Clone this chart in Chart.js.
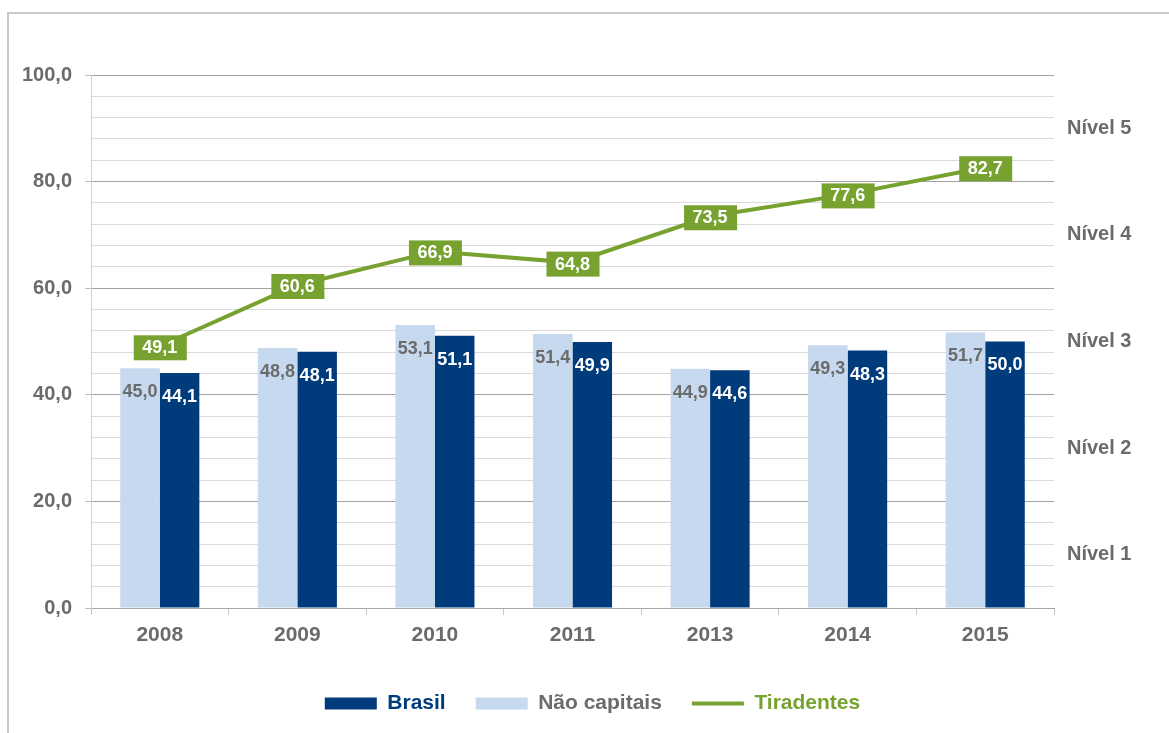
<!DOCTYPE html>
<html>
<head>
<meta charset="utf-8">
<script src="https://cdn.jsdelivr.net/npm/chart.js@4"></script>
<style>
  html, body { margin: 0; padding: 0; background: #fff; }
  #wrap { position: relative; width: 1169px; height: 733px; overflow: hidden; }
  #frame { position: absolute; left: 7px; top: 12px; width: 1200px; height: 800px; border: 2px solid #c9c9c9; box-sizing: border-box; }
  canvas { position: absolute; left: 0; top: 0; }
</style>
</head>
<body>
<div id="wrap">
  <div id="frame"></div>
  <canvas id="chart" width="1169" height="733"></canvas>
</div>
<script>
// anos e valores
const years = ['2008', '2009', '2010', '2011', '2013', '2014', '2015'];
const naoCapitais = [45.0, 48.8, 53.1, 51.4, 44.9, 49.3, 51.7];
const brasil = [44.1, 48.1, 51.1, 49.9, 44.6, 48.3, 50.0];
const tiradentes = [49.1, 60.6, 66.9, 64.8, 73.5, 77.6, 82.7];
const nivelValues = [10, 30, 50, 70, 90];
const nivelLabels = ['Nível 1', 'Nível 2', 'Nível 3', 'Nível 4', 'Nível 5'];

const FONT = '"Liberation Sans", Arial, sans-serif';
const GRAY = '#6b6b6b';
const DARK_BLUE = '#003b7b';
const LIGHT_BLUE = '#c6d9ef';
const GREEN = '#77a22f';

const fmt = v => v.toFixed(1).replace('.', ',');

const legendOrder = { 'Brasil': 0, 'Não capitais': 1, 'Tiradentes': 2 };
const legendColors = { 'Brasil': DARK_BLUE, 'Não capitais': GRAY, 'Tiradentes': GREEN };

const valueLabels = {
    id: 'valueLabels',
    afterDatasetsDraw(chart) {
        const ctx = chart.ctx;
        ctx.save();
        ctx.font = 'bold 18px ' + FONT;
        ctx.textAlign = 'center';
        ctx.textBaseline = 'middle';
        chart.data.datasets.forEach((ds, i) => {
            const meta = chart.getDatasetMeta(i);
            meta.data.forEach((el, j) => {
                const text = fmt(ds.data[j]);
                if (ds.type === 'line') {
                    ctx.fillStyle = GREEN;
                    ctx.fillRect(el.x - 26, el.y - 11, 53, 25);
                    ctx.fillStyle = '#ffffff';
                    ctx.fillText(text, el.x, el.y + 2);
                } else {
                    ctx.fillStyle = ds.label === 'Brasil' ? '#ffffff' : GRAY;
                    ctx.fillText(text, el.x, el.y + 24);
                }
            });
        });
        ctx.restore();
    }
};

const ctx = document.getElementById('chart');
new Chart(ctx, {
    type: 'bar',
    data: {
        labels: years,
        datasets: [
            {
                label: 'Não capitais',
                data: naoCapitais,
                backgroundColor: LIGHT_BLUE,
                borderWidth: 0,
                pointStyle: 'rect',
                categoryPercentage: 0.575,
                barPercentage: 1,
                order: 1
            },
            {
                label: 'Brasil',
                data: brasil,
                backgroundColor: DARK_BLUE,
                borderWidth: 0,
                pointStyle: 'rect',
                categoryPercentage: 0.575,
                barPercentage: 1,
                order: 1
            },
            {
                type: 'line',
                label: 'Tiradentes',
                data: tiradentes,
                borderColor: GREEN,
                backgroundColor: GREEN,
                borderWidth: 4,
                pointRadius: 0,
                pointStyle: 'line',
                tension: 0,
                fill: false,
                order: 0
            }
        ]
    },
    options: {
        responsive: false,
        animation: false,
        devicePixelRatio: 1,
        layout: { padding: { left: 16, right: 0, top: 75, bottom: 9 } },
        plugins: {
            tooltip: { enabled: false },
            legend: {
                position: 'bottom',
                maxHeight: 70,
                labels: {
                    usePointStyle: true,
                    pointStyleWidth: 52,
                    boxHeight: 12,
                    padding: 30,
                    font: { family: FONT, size: 21, weight: 'bold' },
                    sort: (a, b) => legendOrder[a.text] - legendOrder[b.text],
                    generateLabels: chart => {
                        const items = Chart.defaults.plugins.legend.labels.generateLabels(chart);
                        items.forEach(item => { item.fontColor = legendColors[item.text]; });
                        return items;
                    }
                }
            }
        },
        scales: {
            x: {
                offset: true,
                grid: {
                    display: true,
                    drawOnChartArea: false,
                    offset: true,
                    tickLength: 7,
                    color: '#c8c8c8'
                },
                border: { color: '#a6a6a6' },
                ticks: {
                    color: GRAY,
                    padding: 8,
                    font: { family: FONT, size: 21, weight: 'bold' }
                },
                afterFit: scale => { scale.height = 55; }
            },
            y: {
                min: 0,
                max: 100,
                grid: {
                    tickLength: 6,
                    color: c => (c.tick && c.tick.value % 20 === 0) ? '#a3a3a3' : '#dadada',
                    tickColor: c => (c.tick && c.tick.value % 20 === 0) ? '#bdbdbd' : 'rgba(0,0,0,0)'
                },
                border: { color: '#d0d0d0' },
                ticks: {
                    stepSize: 4,
                    autoSkip: false,
                    color: GRAY,
                    padding: 13,
                    font: { family: FONT, size: 20, weight: 'bold' },
                    callback: value => value % 20 === 0 ? fmt(value) : ''
                },
                afterFit: scale => { scale.width = 75; }
            },
            y2: {
                position: 'right',
                min: 0,
                max: 100,
                grid: { display: false, drawTicks: false },
                border: { display: false },
                afterBuildTicks: scale => {
                    scale.ticks = nivelValues.map(v => ({ value: v }));
                },
                ticks: {
                    autoSkip: false,
                    color: GRAY,
                    padding: 13,
                    font: { family: FONT, size: 20, weight: 'bold' },
                    callback: (value, index) => nivelLabels[index]
                },
                afterFit: scale => { scale.width = 115; }
            }
        }
    },
    plugins: [valueLabels]
});
</script>
</body>
</html>
